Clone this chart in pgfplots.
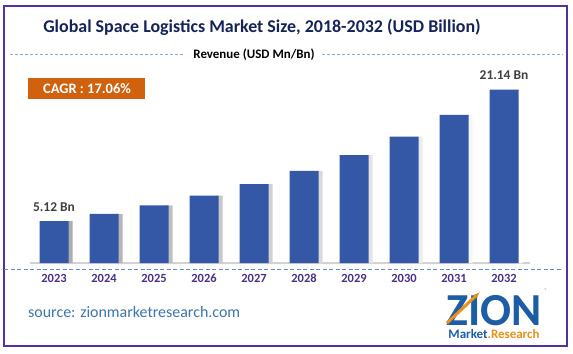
\documentclass[border=0pt]{standalone}
\usepackage{pgfplots}
\pgfplotsset{compat=1.18}
\usepackage{pgfplotstable}
\usetikzlibrary{arrows.meta}
\usepackage{fontspec}
\setmainfont{Carlito}
\definecolor{barblue}{HTML}{3457A6}
\definecolor{framepurple}{HTML}{5530A0}
\definecolor{yearpurple}{HTML}{4A2F8C}
\definecolor{titlenavy}{HTML}{14235A}
\definecolor{dashblue}{HTML}{8EAADC}
\definecolor{dashblue2}{HTML}{5B8BD0}
\definecolor{cagrorange}{HTML}{D0620E}
\definecolor{labelgray}{HTML}{404040}
\definecolor{sourceblue}{HTML}{3A75B0}
\definecolor{zionblue}{HTML}{1B5EA6}
\definecolor{zionorange}{HTML}{E8901A}
\pgfplotstableread{
x y lab
0 5.12 {5.12 Bn}
1 5.99 {}
2 7.02 {}
3 8.21 {}
4 9.61 {}
5 11.25 {}
6 13.17 {}
7 15.42 {}
8 18.05 {}
9 21.14 {21.14 Bn}
}\datatable
\begin{document}
\begin{tikzpicture}[x=1bp,y=1bp]
\path[fill=white] (0,0) rectangle (573,353);
\draw[framepurple, line width=1.5bp] (4,7) rectangle (567,347);
% title
\node[font=\fontsize{18}{20}\selectfont\bfseries, text=titlenavy] at (262,326) {Global Space Logistics Market Size, 2018-2032 (USD Billion)};
% subtitle
\node[font=\fontsize{13}{15}\selectfont\bfseries, text=black] at (254,298) {Revenue (USD Mn/Bn)};
\draw[dashblue, line width=1bp, dash pattern=on 3bp off 2bp] (10,299) -- (185,299);
\draw[dashblue, line width=1bp, dash pattern=on 3bp off 2bp] (322,299) -- (563,299);
% CAGR box
\fill[cagrorange] (28,254) rectangle (145,275);
\node[font=\fontsize{14.5}{16}\selectfont\bfseries, text=white] at (87,264.5) {CAGR : 17.06\%};
% dashed line under bars
\draw[dashblue2, line width=1bp, dash pattern=on 4bp off 2.5bp] (4,84) -- (563,84);
\begin{axis}[
  at={(30bp,90bp)}, anchor=south west, scale only axis,
  width=500bp, height=180.4bp,
  xmin=-0.48, xmax=9.52, ymin=0, ymax=22,
  axis y line=none, axis x line=bottom,
  x axis line style={draw=gray!35, line width=1.2bp, -},
  xtick={0,...,9},
  xticklabels={2023,2024,2025,2026,2027,2028,2029,2030,2031,2032},
  major tick length=0pt,
  xticklabel style={anchor=base, yshift=-19bp, font=\fontsize{12.5}{14}\selectfont\bfseries, text=yearpurple},
  clip=false,
]
\addplot[ybar, bar width=7bp, bar shift=15bp, draw=none, left color=gray!65, right color=white] table[x=x,y=y]{\datatable};
\addplot[ybar, bar width=29bp, bar shift=0pt, fill=barblue, draw=none,
  nodes near coords, point meta=explicit symbolic,
  nodes near coords style={anchor=base, yshift=10bp, font=\fontsize{13.5}{15}\selectfont\bfseries, text=labelgray}]
  table[x=x,y=y,meta=lab]{\datatable};
\end{axis}
% source
\node[anchor=west, font=\fontsize{16}{18}\selectfont, text=sourceblue, inner sep=0pt] at (28,41) {source: zionmarketresearch.com};
% logo
\node[anchor=north, align=center, inner sep=0pt, font=\fontsize{13}{13}\selectfont\bfseries] at (494,58)
  {{\fontsize{46}{13}\selectfont\textcolor{zionblue}{ZION}}\\\textcolor{zionblue}{Market}\textcolor{zionorange}{.Research}};
\draw[zionorange, line width=3bp, -{Latex[length=6bp]}] (447,30) -- (480,61);
\node[font=\fontsize{6}{7}\selectfont, text=zionorange] at (546,63) {®};
\end{tikzpicture}
\end{document}
